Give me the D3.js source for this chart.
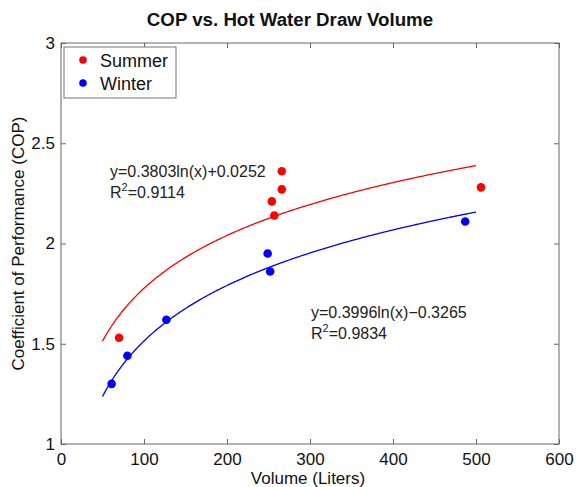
<!DOCTYPE html>
<html>
<head>
<meta charset="utf-8">
<script src="https://cdn.jsdelivr.net/npm/d3@7.9.0/dist/d3.min.js"></script>
<style>
  body { margin: 0; background: #fff; }
  svg { display: block; font-family: "Liberation Sans", Arial, sans-serif; }
</style>
</head>
<body>
<div id="chart"></div>
<script>
// measured points
const summerVolume = [70, 266, 266, 254, 257, 506];
const summerCOP    = [1.53, 2.36, 2.27, 2.21, 2.14, 2.28];
const winterVolume = [61, 80, 127, 249, 252, 487];
const winterCOP    = [1.30, 1.44, 1.62, 1.95, 1.86, 2.11];

// log fits as printed on the chart: y = a ln(x) + b
const fitNames  = ['Summer', 'Winter'];
const fitA      = [0.3803, 0.3996];
const fitB      = [0.0252, -0.3265];
const fitLabels = [['y=0.3803ln(x)+0.0252', '0.9114'], ['y=0.3996ln(x)\u22120.3265', '0.9834']];
const fitRange  = [50, 500];

const xTicks = [0, 100, 200, 300, 400, 500, 600];
const yTicks = [1, 1.5, 2, 2.5, 3];

const colors = { Summer: '#ff0000', Winter: '#0000ff' };

const width = 576, height = 487;
const margin = { top: 43, right: 17, bottom: 43, left: 61 };

const svg = d3.select('#chart').append('svg')
  .attr('width', width)
  .attr('height', height);

const x = d3.scaleLinear().domain([0, 600]).range([margin.left, width - margin.right]);
const y = d3.scaleLinear().domain([1, 3]).range([height - margin.bottom, margin.top]);

const axisColor = '#666';

// axes box with inward ticks on all sides
function styleAxis(g) {
  g.select('.domain').remove();
  g.selectAll('.tick line').attr('stroke', axisColor);
  g.selectAll('.tick text').attr('fill', '#111').style('font-size', '17px');
}

svg.append('g')
  .attr('transform', `translate(0,${y(1)})`)
  .call(d3.axisBottom(x).tickValues(xTicks).tickSize(-5).tickPadding(9).tickFormat(d3.format('d')))
  .call(styleAxis);
svg.append('g')
  .attr('transform', `translate(0,${y(3)})`)
  .call(d3.axisTop(x).tickValues(xTicks).tickSize(-5).tickFormat(''))
  .call(styleAxis);
svg.append('g')
  .attr('transform', `translate(${x(0)},0)`)
  .call(d3.axisLeft(y).tickValues(yTicks).tickSize(-5).tickPadding(6).tickFormat(d => String(d)))
  .call(styleAxis);
svg.append('g')
  .attr('transform', `translate(${x(600)},0)`)
  .call(d3.axisRight(y).tickValues(yTicks).tickSize(-5).tickFormat(''))
  .call(styleAxis);

svg.append('rect')
  .attr('x', x(0)).attr('y', y(3))
  .attr('width', x(600) - x(0)).attr('height', y(1) - y(3))
  .attr('fill', 'none').attr('stroke', axisColor).attr('stroke-width', 1);

// fit curves
const line = d3.line().x(d => x(d[0])).y(d => y(d[1]));
fitNames.forEach((name, i) => {
  const pts = d3.range(fitRange[0], fitRange[1] + 1, 2).map(v => [v, fitA[i] * Math.log(v) + fitB[i]]);
  svg.append('path')
    .datum(pts)
    .attr('d', line)
    .attr('fill', 'none')
    .attr('stroke', colors[name])
    .attr('stroke-width', 1.3);
});

// points
const series = [
  { name: 'Summer', xs: summerVolume, ys: summerCOP },
  { name: 'Winter', xs: winterVolume, ys: winterCOP }
];
series.forEach(s => {
  svg.append('g').selectAll('circle')
    .data(s.xs.map((v, i) => [v, s.ys[i]]))
    .join('circle')
      .attr('cx', d => x(d[0]))
      .attr('cy', d => y(d[1]))
      .attr('r', 4.3)
      .attr('fill', colors[s.name]);
});

// fit equations
const labelPos = [[110, 177], [311, 318]];
fitLabels.forEach((lab, i) => {
  const g = svg.append('g').attr('transform', `translate(${labelPos[i][0]},${labelPos[i][1]})`)
    .style('font-size', '16px').attr('fill', '#222');
  g.append('text').text(lab[0]);
  const r = g.append('text').attr('y', 21);
  r.append('tspan').text('R');
  r.append('tspan').attr('dy', -7).style('font-size', '11px').text('2');
  r.append('tspan').attr('dy', 7).text('=' + lab[1]);
});

// legend
const legend = svg.append('g').attr('transform', 'translate(64,47)');
legend.append('rect')
  .attr('width', 112).attr('height', 51)
  .attr('fill', '#fff').attr('stroke', '#777');
series.forEach((s, i) => {
  legend.append('circle')
    .attr('cx', 19).attr('cy', 13 + i * 23)
    .attr('r', 3.8).attr('fill', colors[s.name]);
  legend.append('text')
    .attr('x', 36).attr('y', 19.5 + i * 23)
    .style('font-size', '18px').attr('fill', '#111')
    .text(s.name);
});

// title and axis labels
svg.append('text')
  .attr('x', 290).attr('y', 26)
  .attr('text-anchor', 'middle')
  .style('font-size', '18.7px').style('font-weight', 'bold').attr('fill', '#111')
  .text('COP vs. Hot Water Draw Volume');
svg.append('text')
  .attr('x', x(300) - 2).attr('y', 484)
  .attr('text-anchor', 'middle')
  .style('font-size', '17px').attr('fill', '#111')
  .text('Volume (Liters)');
svg.append('text')
  .attr('transform', `translate(24,${y(2)}) rotate(-90)`)
  .attr('text-anchor', 'middle')
  .style('font-size', '17px').attr('fill', '#111')
  .text('Coefficient of Performance (COP)');
</script>
</body>
</html>
